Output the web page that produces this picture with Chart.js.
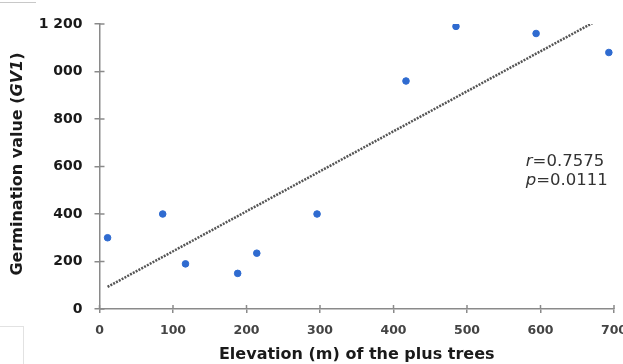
<!DOCTYPE html>
<html>
  <head>
    <title>Germination value vs elevation</title>
    <script src="https://cdn.jsdelivr.net/npm/chart.js@4.4.1/dist/chart.umd.min.js"></script>
    <style>
      html, body { margin: 0; padding: 0; background: #fff; overflow: hidden; }
    </style>
  </head>
  <body>
    <canvas id="canvas" width="623" height="364"></canvas>
    <script>
      // elevation (m) of each plus tree and its germination value
      const elevation = [11, 86, 117, 188, 214, 296, 417, 485, 594, 693];
      const germination = [300, 400, 190, 150, 235, 400, 960, 1190, 1160, 1080];
      // end points of the linear trend line
      const trendX = [11, 673];
      const trendY = [93, 1208];
      // y tick labels as printed (the "1 " of 1 000 is cut off in the source)
      const yTickLabels = { 0: '0', 200: '200', 400: '400', 600: '600', 800: '800', 1000: '000', 1200: '1 200' };
      const stats = [['r', '=0.7575'], ['p', '=0.0111']];

      const axisColor = '#8a8a8a';

      // ticks that cross the axis line, the y title with italic GV1, r/p note
      const extras = {
        id: 'extras',
        afterDraw(chart) {
          const { ctx, scales: { x, y } } = chart;
          ctx.save();
          ctx.strokeStyle = axisColor;
          ctx.lineWidth = 1.5;
          x.ticks.forEach(t => {
            const px = x.getPixelForValue(t.value);
            ctx.beginPath();
            ctx.moveTo(px, y.bottom);
            ctx.lineTo(px, y.bottom - 4);
            ctx.stroke();
          });
          y.ticks.forEach(t => {
            const py = y.getPixelForValue(t.value);
            ctx.beginPath();
            ctx.moveTo(x.left, py);
            ctx.lineTo(x.left + 5, py);
            ctx.stroke();
          });

          // y axis title
          ctx.fillStyle = '#1a1a1a';
          ctx.textBaseline = 'middle';
          const parts = [
            ['bold 16px "DejaVu Sans"', 'Germination value ('],
            ['italic bold 16px "DejaVu Sans"', 'GV1'],
            ['bold 16px "DejaVu Sans"', ')']
          ];
          let total = 0;
          parts.forEach(p => { ctx.font = p[0]; total += ctx.measureText(p[1]).width; });
          ctx.translate(18, 164);
          ctx.rotate(-Math.PI / 2);
          let cx = -total / 2;
          parts.forEach(p => {
            ctx.font = p[0];
            ctx.textAlign = 'left';
            ctx.fillText(p[1], cx, 0);
            cx += ctx.measureText(p[1]).width;
          });
          ctx.restore();

          // r and p
          ctx.save();
          ctx.fillStyle = '#333';
          ctx.textBaseline = 'middle';
          stats.forEach((s, i) => {
            const lx = x.getPixelForValue(580);
            const ly = 162 + i * 18.5;
            ctx.font = 'italic 16.5px "DejaVu Sans"';
            ctx.fillText(s[0], lx, ly);
            const w = ctx.measureText(s[0]).width;
            ctx.font = '16.5px "DejaVu Sans"';
            ctx.fillText(s[1], lx + w, ly);
          });

          // crop leftovers of the source figure
          ctx.strokeStyle = '#c8c8c8';
          ctx.lineWidth = 1;
          ctx.beginPath();
          ctx.moveTo(0, 2.5);
          ctx.lineTo(36, 2.5);
          ctx.stroke();
          ctx.strokeStyle = '#e2e2e2';
          ctx.strokeRect(-1, 326.5, 24.5, 40);
          ctx.restore();
        }
      };

      window.onload = () => {
        const ctx = document.getElementById('canvas').getContext('2d');
        window.myChart = new Chart(ctx, {
          type: 'scatter',
          data: {
            datasets: [
              {
                label: 'Trees',
                data: elevation.map((e, i) => ({ x: e, y: germination[i] })),
                backgroundColor: '#2f6bd0',
                borderColor: '#2f6bd0',
                pointRadius: 3.3,
                pointHoverRadius: 3.3,
              },
              {
                label: 'Trend',
                type: 'line',
                data: trendX.map((e, i) => ({ x: e, y: trendY[i] })),
                borderColor: '#555',
                borderWidth: 2.5,
                borderDash: [2, 1.2],
                pointRadius: 0,
                fill: false,
              },
            ],
          },
          plugins: [extras],
          options: {
            responsive: false,
            maintainAspectRatio: false,
            animation: false,
            layout: { padding: { top: 24, right: 9, left: 0, bottom: 0 } },
            plugins: { legend: { display: false }, tooltip: { enabled: false } },
            scales: {
              x: {
                type: 'linear',
                min: 0,
                max: 700,
                ticks: {
                  stepSize: 100,
                  maxRotation: 0,
                  color: '#444',
                  padding: 10,
                  font: { family: 'DejaVu Sans', size: 12.5, weight: 'bold' },
                },
                grid: { drawOnChartArea: false, color: axisColor, lineWidth: 1.5, tickLength: 4 },
                border: { color: axisColor, width: 1.5 },
                title: {
                  display: true,
                  text: 'Elevation (m) of the plus trees',
                  color: '#1a1a1a',
                  font: { family: 'DejaVu Sans', size: 16, weight: 'bold' },
                  padding: { top: 0, bottom: 0 },
                },
                afterFit(scale) {
                  scale.height = 55;
                  scale.paddingLeft = 0;
                  scale.paddingRight = 0;
                },
              },
              y: {
                min: 0,
                max: 1200,
                ticks: {
                  stepSize: 200,
                  color: '#1a1a1a',
                  padding: 12,
                  font: { family: 'DejaVu Sans', size: 14, weight: 'bold' },
                  callback: v => yTickLabels[v],
                },
                grid: { drawOnChartArea: false, color: axisColor, lineWidth: 1.5, tickLength: 5 },
                border: { color: axisColor, width: 1.5 },
                afterFit(scale) {
                  scale.width = 99.5;
                },
              },
            },
          },
        });
      };
    </script>
  </body>
</html>
